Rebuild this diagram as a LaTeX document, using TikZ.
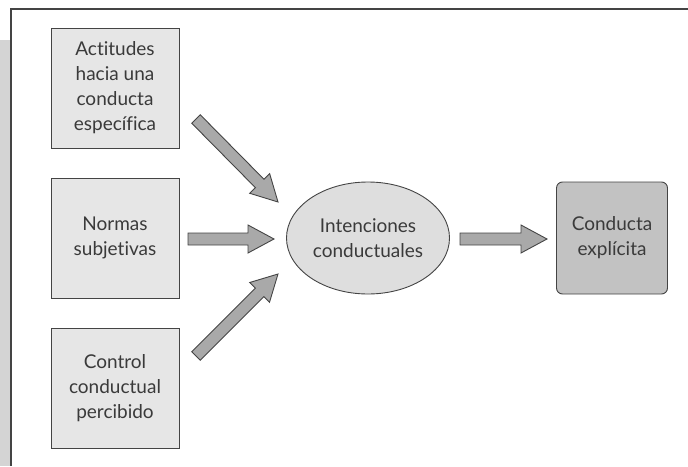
\documentclass[tikz,border=0pt]{standalone}
\usepackage{fontspec}
\setmainfont[Ligatures={NoCommon}]{Lato}
\usetikzlibrary{calc, shapes, positioning}

\definecolor{framegray}{HTML}{444444}
\definecolor{stripgray}{HTML}{D4D4D4}
\definecolor{boxfill}{HTML}{E6E6E6}
\definecolor{ovalfill}{HTML}{DEDEDE}
\definecolor{endfill}{HTML}{C2C2C2}
\definecolor{arrowfill}{HTML}{A9A9A9}
\definecolor{inkgray}{HTML}{3A3A3A}

\tikzset{
  factor/.style={draw=framegray, fill=boxfill, line width=0.9pt,
    minimum width=128pt, minimum height=120pt, inner sep=0pt,
    align=center, text=inkgray, font=\fontsize{19}{25}\selectfont},
  blockarrow/.style={draw=framegray, fill=arrowfill, line width=0.9pt,
    to path={let \p1=(\tikztostart), \p2=(\tikztotarget),
      \n1={atan2(\y2-\y1,\x2-\x1)}, \n2={veclen(\x2-\x1,\y2-\y1)} in
      ($(\p1)+(\n1+90:6pt)$)
      -- ($(\p1)+(\n1+90:6pt)+({\n1}:{(\n2-26)*1pt})$)
      -- ($(\p1)+(\n1+90:14pt)+({\n1}:{(\n2-26)*1pt})$)
      -- (\p2)
      -- ($(\p1)+(\n1-90:14pt)+({\n1}:{(\n2-26)*1pt})$)
      -- ($(\p1)+(\n1-90:6pt)+({\n1}:{(\n2-26)*1pt})$)
      -- ($(\p1)+(\n1-90:6pt)$) -- cycle}}
}

\begin{document}
\begin{tikzpicture}[x=1pt, y=-1pt]
  \useasboundingbox (0,0) rectangle (688,466);

  \fill[stripgray] (0,40) rectangle (10,466);
  \draw[framegray, line width=1.8pt] (11,466) -- (11,9) -- (688,9);

  \node (Actitudes) [factor] at (115,88) {Actitudes\\hacia una\\conducta\\específica};
  \node (Normas) [factor] at (115,238) {Normas\\subjetivas};
  \node (Control) [factor] at (115,388) {Control\\conductual\\percibido};

  \node (Intenciones) [ellipse, draw=framegray, fill=ovalfill, line width=0.9pt,
    minimum width=163pt, minimum height=112pt, inner sep=0pt, align=center,
    text=inkgray, font=\fontsize{19}{25}\selectfont] at (368,238)
    {Intenciones\\conductuales};

  \node (Conducta) [draw=framegray, fill=endfill, line width=0.9pt,
    rounded corners=6pt, minimum width=111pt, minimum height=112pt,
    inner sep=0pt, align=center, text=inkgray,
    font=\fontsize{19}{25}\selectfont] at (612,238) {Conducta\\explícita};

  \coordinate (ActOut) at (196,119);
  \coordinate (ActIn) at (278,202);
  \draw[blockarrow] (ActOut) to (ActIn);

  \coordinate (NormOut) at (188,239);
  \coordinate (NormIn) at (274,239);
  \draw[blockarrow] (NormOut) to (NormIn);

  \coordinate (CtrlOut) at (196,356);
  \coordinate (CtrlIn) at (278,274);
  \draw[blockarrow] (CtrlOut) to (CtrlIn);

  \coordinate (IntOut) at (460,239);
  \coordinate (ConIn) at (547,239);
  \draw[blockarrow] (IntOut) to (ConIn);
\end{tikzpicture}
\end{document}
